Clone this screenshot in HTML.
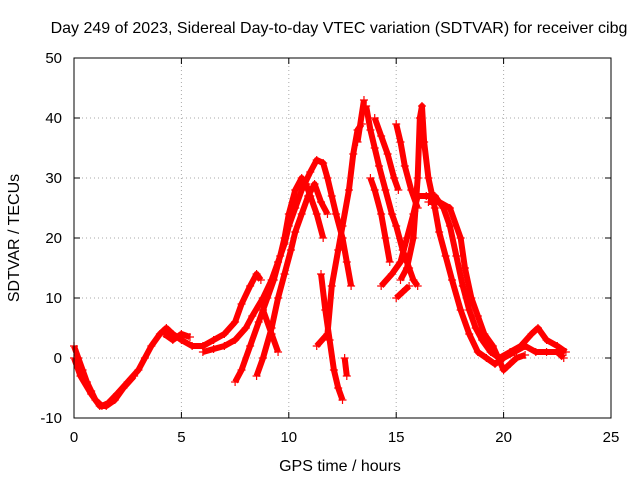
<!DOCTYPE html>
<html><head><meta charset="utf-8"><style>
body{margin:0;background:#fff;font-family:"Liberation Sans",sans-serif}
svg text{font-family:"Liberation Sans",sans-serif;font-size:16px;fill:#000}
svg text.tk{font-size:15px}
</style></head><body>
<svg id="c" width="640" height="480">
<text x="339" y="33" text-anchor="middle">Day 249 of 2023, Sidereal Day-to-day VTEC variation (SDTVAR) for receiver cibg</text>
<g id="grid"></g>
<g id="ticks"></g>
<g id="marks"></g>
<rect x="74" y="58" width="537" height="360" fill="none" stroke="#000" stroke-width="1"/>
<text x="340" y="471" text-anchor="middle">GPS time / hours</text>
<text transform="translate(19,238) rotate(-90)" text-anchor="middle">SDTVAR / TECUs</text>
</svg>
<script>
const xTicks=[0,5,10,15,20,25];
const yTicks=[-10,0,10,20,30,40,50];
const trackA=[[0,2],[0.2,0],[0.4,-2],[0.6,-4],[0.8,-5.5],[1,-7],[1.3,-8],[1.6,-7.5],[2,-6],[2.5,-4],[3,-2],[3.3,0],[3.6,2],[4,4],[4.3,5],[4.6,4],[5,3],[5.5,2],[6,2],[6.5,3],[7,4],[7.5,6],[7.8,9],[8.2,12],[8.5,14],[8.7,13]];
const trackA2=[[0,0],[0.3,-3],[0.8,-6],[1.2,-8],[1.5,-8],[1.9,-7],[2.3,-5],[2.8,-3]];
const trackA3=[[4.2,4],[4.6,3],[5,4],[5.4,3.5]];
const trackB=[[6,1],[6.5,1.5],[7,2],[7.5,3],[8,5],[8.3,7],[8.8,10],[9.2,13],[9.5,16],[9.8,19],[10,22],[10.3,25],[10.6,28],[11,31],[11.3,33],[11.6,32.5],[11.8,30],[12,27],[12.2,24],[12.5,20],[12.7,16],[12.9,12]];
const trackC=[[7.5,-4],[7.8,-2],[8.2,2],[8.6,6],[9,10],[9.3,13],[9.6,17],[9.8,20],[10,24],[10.3,28],[10.6,30],[10.8,29],[11,27],[11.3,24],[11.6,20]];
const trackD=[[8.5,-3],[8.8,0],[9.2,5],[9.5,10],[9.8,14],[10.1,18],[10.3,21],[10.6,24],[10.9,27],[11.2,29],[11.5,26],[11.8,24]];
const trackE=[[8.8,8],[9.2,4],[9.5,1]];
const trackF=[[11.3,2],[11.8,4],[12,12],[12.3,18],[12.5,22],[12.8,28],[13,34],[13.2,38],[13.4,39]];
const trackG=[[11.5,14],[11.7,8],[11.9,3],[12.1,-2],[12.3,-5],[12.5,-7]];
const trackH=[[12.6,0],[12.7,-3]];
const trackI=[[13.6,42],[13.8,38],[14,35],[14.2,32],[14.5,28],[14.8,24],[15,22],[15.3,18],[15.6,15],[15.8,13],[16,12]];
const trackJ=[[14,40],[14.3,37],[14.6,34],[14.9,30],[15.1,28]];
const trackJ2=[[13.8,30],[14,28],[14.3,24],[14.5,20],[14.7,16]];
const trackK=[[14.3,12],[14.8,14],[15.2,16],[15.5,20],[15.8,24],[16,27],[16.4,27],[16.8,27],[17.2,25],[17.5,22],[17.8,17],[18.1,12],[18.4,8],[18.7,5],[19,3],[19.4,1],[19.8,0],[20.3,1],[20.8,2],[21.3,4],[21.6,5],[22,3],[22.5,2],[22.9,1]];
const trackL=[[15.2,13],[15.5,15],[15.8,20],[16,30],[16.1,40],[16.2,42],[16.3,36],[16.5,30],[16.8,25],[17,21],[17.3,17],[17.6,13],[18,8],[18.4,4],[18.8,1],[19.2,0],[19.6,-1],[20,0],[20.5,1],[21,2],[21.5,1],[22,1],[22.5,1],[22.8,0]];
const trackM=[[15,39],[15.2,36],[15.4,32],[15.7,28],[16,25]];
const trackM2=[[15,10],[15.3,11],[15.6,12]];
const trackN=[[16.5,26],[17,26],[17.5,25],[18,20],[18.2,15],[18.5,10],[18.8,7],[19.1,4],[19.5,2],[20,-2],[20.3,-1],[20.6,0],[21,0.5]];
const spikes=[[13.2,36],[13.5,43]];
const tracks=[trackA,trackA2,trackA3,trackB,trackC,trackD,trackE,trackF,trackG,trackH,trackI,trackJ,trackJ2,trackK,trackL,trackM,trackM2,trackN,spikes];

const X0=74,X1=611,Y0=418,Y1=58;
const xs=t=>X0+(t-0)/(25-0)*(X1-X0);
const ys=v=>Y0-(v+10)/(50+10)*(Y0-Y1);
const NS="http://www.w3.org/2000/svg";
function mk(tag,attrs,parent){const e=document.createElementNS(NS,tag);for(const k in attrs)e.setAttribute(k,attrs[k]);parent.appendChild(e);return e;}
const grid=document.getElementById('grid'),ticks=document.getElementById('ticks'),marks=document.getElementById('marks');
xTicks.forEach(t=>{
 const x=xs(t);
 if(t>0&&t<25){const g=mk('line',{x1:x,x2:x,y1:Y1,y2:Y0,stroke:'#aaa','stroke-dasharray':'1,3'},grid);
 
 }
 mk('line',{x1:x,x2:x,y1:Y0,y2:Y0-6,stroke:'#000'},ticks);
 mk('line',{x1:x,x2:x,y1:Y1,y2:Y1+6,stroke:'#000'},ticks);
 const l=mk('text',{x:x,y:Y0+24,'text-anchor':'middle','class':'tk'},ticks);l.textContent=t;
 
 
});
yTicks.forEach(v=>{
 const y=ys(v);
 if(v>-10&&v<50){const g=mk('line',{x1:X0,x2:X1,y1:y,y2:y,stroke:'#aaa','stroke-dasharray':'1,3'},grid);
 
 }
 mk('line',{x1:X0,x2:X0+6,y1:y,y2:y,stroke:'#000'},ticks);
 mk('line',{x1:X1,x2:X1-6,y1:y,y2:y,stroke:'#000'},ticks);
 const l=mk('text',{x:X0-12,y:y+5,'text-anchor':'end','class':'tk'},ticks);l.textContent=v;
 
 
});
tracks.forEach((tr,i)=>{
 const pts=tr.map(p=>xs(p[0])+','+ys(p[1])).join(' ');
 const pl=mk('polyline',{points:pts,fill:'none',stroke:'#f00','stroke-width':6,'stroke-linejoin':'round'},marks);
 
 
 tr.forEach(p=>{
  const x=xs(p[0]),y=ys(p[1]);
  const m=mk('path',{d:`M${x-4},${y}H${x+4}M${x},${y-4}V${y+4}`,stroke:'#f00','stroke-width':1.2},marks);
  
  
 });
});
</script>
</body></html>
